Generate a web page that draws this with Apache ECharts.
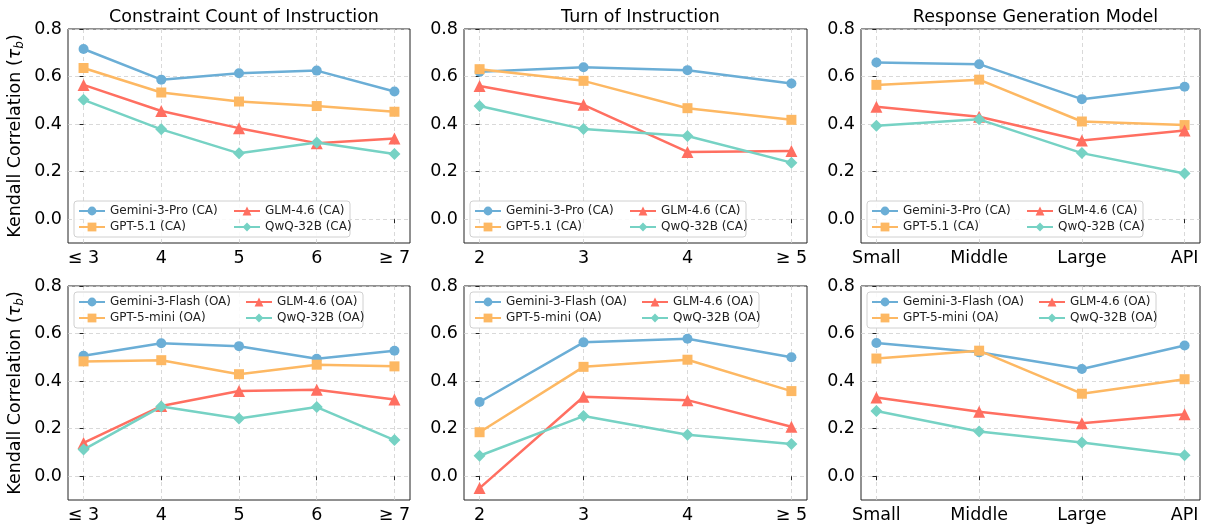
<!DOCTYPE html>
<html>
<head>
<meta charset="utf-8">
<script src="https://cdn.jsdelivr.net/npm/echarts@6/dist/echarts.min.js"></script>
<style>html,body{margin:0;padding:0;background:#fff}#c{width:1207px;height:529px}</style>
</head>
<body>
<div id="c"></div>
<script>
// ---- data ----
const catsConstraint = ['≤ 3', '4', '5', '6', '≥ 7'];
const catsTurn = ['2', '3', '4', '≥ 5'];
const catsModel = ['Small', 'Middle', 'Large', 'API'];
const yTicks = [0, 0.2, 0.4, 0.6, 0.8];
const panelTitles = ['Constraint Count of Instruction', 'Turn of Instruction', 'Response Generation Model'];

const namesCA = ['Gemini-3-Pro (CA)', 'GPT-5.1 (CA)', 'GLM-4.6 (CA)', 'QwQ-32B (CA)'];
const namesOA = ['Gemini-3-Flash (OA)', 'GPT-5-mini (OA)', 'GLM-4.6 (OA)', 'QwQ-32B (OA)'];

// CA - constraint count
const caConstraintGemini = [0.716, 0.587, 0.614, 0.625, 0.537];
const caConstraintGPT    = [0.636, 0.533, 0.495, 0.476, 0.452];
const caConstraintGLM    = [0.565, 0.455, 0.383, 0.320, 0.340];
const caConstraintQwQ    = [0.502, 0.378, 0.277, 0.323, 0.274];
// CA - turn
const caTurnGemini = [0.620, 0.639, 0.627, 0.571];
const caTurnGPT    = [0.631, 0.582, 0.467, 0.418];
const caTurnGLM    = [0.560, 0.481, 0.283, 0.287];
const caTurnQwQ    = [0.476, 0.379, 0.350, 0.238];
// CA - response model
const caModelGemini = [0.659, 0.652, 0.505, 0.557];
const caModelGPT    = [0.565, 0.587, 0.411, 0.396];
const caModelGLM    = [0.473, 0.431, 0.331, 0.373];
const caModelQwQ    = [0.393, 0.420, 0.278, 0.192];
// OA - constraint count
const oaConstraintGemini = [0.507, 0.559, 0.547, 0.494, 0.528];
const oaConstraintGPT    = [0.483, 0.488, 0.429, 0.469, 0.462];
const oaConstraintGLM    = [0.140, 0.295, 0.358, 0.364, 0.323];
const oaConstraintQwQ    = [0.112, 0.293, 0.243, 0.291, 0.152];
// OA - turn
const oaTurnGemini = [0.312, 0.563, 0.578, 0.500];
const oaTurnGPT    = [0.185, 0.460, 0.490, 0.358];
const oaTurnGLM    = [-0.050, 0.334, 0.320, 0.208];
const oaTurnQwQ    = [0.086, 0.253, 0.174, 0.136];
// OA - response model
const oaModelGemini = [0.560, 0.521, 0.451, 0.550];
const oaModelGPT    = [0.495, 0.528, 0.347, 0.408];
const oaModelGLM    = [0.331, 0.271, 0.223, 0.261];
const oaModelQwQ    = [0.274, 0.188, 0.142, 0.088];

// ---- styling ----
const colors = ['#6baed6', '#fdb863', '#ff6f61', '#76d2c4'];
const symbols = ['circle', 'rect', 'triangle', 'diamond'];
const symbolSizes = [10, 10, 12, 12];
const FONT = 'DejaVu Sans';
const FS = 17.5;

const colLeft = [68, 464, 861];
const colWidth = [342, 343, 339];
const rowTop = [29, 286];
const rowHeight = 214;

const panels = [
  {row: 0, col: 0, cats: catsConstraint, names: namesCA, data: [caConstraintGemini, caConstraintGPT, caConstraintGLM, caConstraintQwQ]},
  {row: 0, col: 1, cats: catsTurn, names: namesCA, data: [caTurnGemini, caTurnGPT, caTurnGLM, caTurnQwQ]},
  {row: 0, col: 2, cats: catsModel, names: namesCA, data: [caModelGemini, caModelGPT, caModelGLM, caModelQwQ]},
  {row: 1, col: 0, cats: catsConstraint, names: namesOA, data: [oaConstraintGemini, oaConstraintGPT, oaConstraintGLM, oaConstraintQwQ]},
  {row: 1, col: 1, cats: catsTurn, names: namesOA, data: [oaTurnGemini, oaTurnGPT, oaTurnGLM, oaTurnQwQ]},
  {row: 1, col: 2, cats: catsModel, names: namesOA, data: [oaModelGemini, oaModelGPT, oaModelGLM, oaModelQwQ]}
];

const grid = [], xAxis = [], yAxis = [], series = [], legend = [], title = [], graphics = [];

panels.forEach((p, i) => {
  const left = colLeft[p.col], top = rowTop[p.row], w = colWidth[p.col];
  grid.push({left: left, top: top, width: w, height: rowHeight, show: true,
    borderColor: '#222', borderWidth: 1, backgroundColor: 'transparent', containLabel: false});
  const n = p.cats.length;
  const m = 0.05 * (n - 1);
  const idx = p.cats.map((_, k) => k);
  xAxis.push({
    type: 'value', gridIndex: i, min: -m, max: (n - 1) + m,
    axisLine: {show: false},
    axisTick: {show: true, customValues: idx, length: 4, lineStyle: {color: '#222'}},
    axisLabel: {customValues: idx, color: '#000', fontFamily: FONT, fontSize: FS, margin: 6,
      formatter: v => p.cats[Math.round(v)]},
    splitLine: {show: true, lineStyle: {color: '#cfcfcf', type: [4, 3], width: 0.8}}
  });
  const ya = {
    type: 'value', gridIndex: i, min: -0.1, max: 0.8,
    axisLine: {show: false},
    axisTick: {show: true, customValues: yTicks, length: 4, lineStyle: {color: '#222'}},
    axisLabel: {customValues: yTicks, color: '#000', fontFamily: FONT, fontSize: FS, margin: 6,
      formatter: v => v.toFixed(1)},
    splitLine: {show: true, lineStyle: {color: '#cfcfcf', type: [4, 3], width: 0.8}}
  };
  if (p.col === 0) {
    ya.name = '{a|Kendall Correlation (}{t|τ}{s|b}{a|)}';
    ya.nameLocation = 'middle';
    ya.nameGap = 42;
    ya.nameTextStyle = {
      rich: {
        a: {fontFamily: FONT, fontSize: FS, color: '#000'},
        t: {fontFamily: FONT, fontSize: FS, fontStyle: 'italic', color: '#000'},
        s: {fontFamily: FONT, fontSize: 12, fontStyle: 'italic', color: '#000', padding: [9, 0, 0, 0]}
      }
    };
  }
  yAxis.push(ya);

  p.names.forEach((name, s) => {
    series.push({
      type: 'line', name: name, xAxisIndex: i, yAxisIndex: i,
      data: p.data[s].map((v, k) => [k, v]),
      symbol: symbols[s], symbolSize: symbolSizes[s],
      lineStyle: {width: 2.5, color: colors[s]},
      itemStyle: {color: colors[s]},
      showSymbol: true, animation: false, z: 3 + s
    });
  });

  // legend (2 columns, column-major like matplotlib ncol=2)
  const isTop = p.row === 0;
  const boxLeft = left + 6;
  const boxW = isTop ? 276 : 289;
  const row1 = isTop ? top + 182 : top + 16;
  const boxTop = row1 - 10;
  const col2Off = isTop ? 155 : 167;
  graphics.push({type: 'rect', shape: {x: boxLeft, y: boxTop, width: boxW, height: 36, r: 3},
    style: {fill: 'rgba(255,255,255,0.85)', stroke: '#d0d0d0', lineWidth: 1}, z: 10});
  const legCommon = {orient: 'vertical', itemWidth: 26, itemHeight: 11, itemGap: 2, padding: 0,
    textStyle: {fontFamily: FONT, fontSize: 12, color: '#222', lineHeight: 14}, z: 20, selectedMode: false};
  legend.push(Object.assign({}, legCommon, {left: boxLeft + 4, top: row1 - 7, data: [p.names[0], p.names[1]]}));
  legend.push(Object.assign({}, legCommon, {left: boxLeft + 4 + col2Off, top: row1 - 7, data: [p.names[2], p.names[3]]}));

  if (p.row === 0) {
    title.push({text: panelTitles[p.col], left: left + w / 2, top: 3, textAlign: 'center',
      textStyle: {fontFamily: FONT, fontSize: FS, fontWeight: 'normal', color: '#000'}});
  }
});

const chart = echarts.init(document.getElementById('c'), null, {renderer: 'canvas'});
chart.setOption({
  animation: false,
  backgroundColor: '#fff',
  title: title, grid: grid, xAxis: xAxis, yAxis: yAxis, series: series, legend: legend,
  graphic: graphics
});
</script>
</body>
</html>
